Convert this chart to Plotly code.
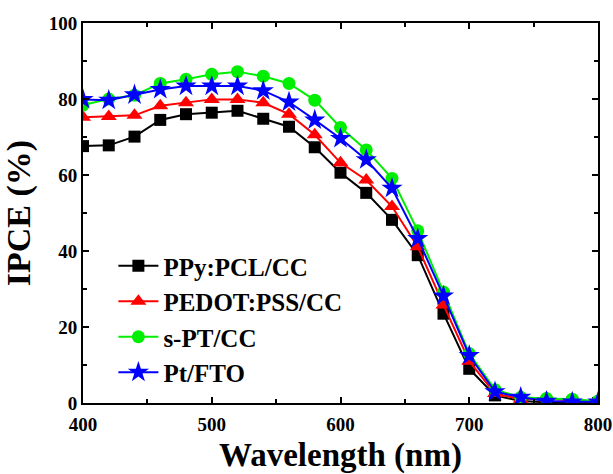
import plotly.graph_objects as go

wavelength = [400, 420, 440, 460, 480, 500, 520, 540, 560, 580, 600,
              620, 640, 660, 680, 700, 720, 740, 760, 780, 800]
ppy_pcl_cc = [67.6, 67.8, 70.1, 74.5, 76.0, 76.4, 76.9, 74.8, 72.7, 67.3, 60.6,
              55.3, 48.2, 38.9, 23.5, 9.0, 2.0, 0.5, 0.2, 0.1, 0.0]
pedot_pss_cc = [75.2, 75.4, 75.7, 78.2, 79.0, 79.9, 79.9, 79.0, 76.0, 70.6, 63.2,
                58.7, 51.7, 41.1, 25.8, 11.0, 2.5, 1.0, 1.3, 0.5, 0.4]
spt_cc = [78.4, 80.0, 81.0, 84.1, 85.2, 86.5, 87.2, 86.0, 84.1, 79.7, 72.5,
          66.6, 59.1, 45.3, 29.2, 13.0, 3.5, 1.5, 1.2, 1.0, 0.5]
pt_fto = [79.9, 79.7, 81.1, 82.5, 83.4, 83.4, 83.4, 82.2, 79.2, 74.5, 69.6,
          64.0, 56.5, 43.3, 28.2, 12.5, 3.0, 1.5, 0.5, 0.3, 0.3]

series = [
    ("PPy:PCL/CC", ppy_pcl_cc, "#000000", "square", 12),
    ("PEDOT:PSS/CC", pedot_pss_cc, "#ff0000", "triangle-up", 14),
    ("s-PT/CC", spt_cc, "#00ee00", "circle", 13),
    ("Pt/FTO", pt_fto, "#0000ff", "star", 16),
]

fig = go.Figure()
for name, vals, color, sym, size in series:
    fig.add_trace(go.Scatter(
        x=wavelength, y=vals, name=name, mode="lines+markers",
        line=dict(color=color, width=2),
        marker=dict(symbol=sym, size=size, color=color, line=dict(width=0)),
    ))

font_family = "Liberation Serif, Times New Roman, serif"
axis_common = dict(
    showline=True, linecolor="black", linewidth=2, mirror="allticks",
    ticks="inside", ticklen=6, tickwidth=2, tickcolor="black",
    showgrid=False, zeroline=False, automargin=False,
    tickfont=dict(family=font_family, size=19, color="black", weight="bold"),
)
fig.update_xaxes(
    range=[400, 800], tickvals=[400, 500, 600, 700, 800],
    minor=dict(ticks="inside", ticklen=4, tickwidth=2, tickcolor="black", dtick=50, tick0=400),
    ticklabelstandoff=3,
    title=dict(text="Wavelength (nm)", font=dict(family=font_family, size=33, color="black", weight="bold"), standoff=10),
    **axis_common,
)
fig.update_yaxes(
    range=[0, 100], tickvals=[0, 20, 40, 60, 80, 100],
    minor=dict(ticks="inside", ticklen=4, tickwidth=2, tickcolor="black", dtick=10, tick0=0),
    title=dict(text="IPCE (%)", font=dict(family=font_family, size=34, color="black", weight="bold"), standoff=8),
    **axis_common,
)
fig.update_layout(
    width=613, height=474,
    margin=dict(l=83, r=15, t=23, b=71),
    plot_bgcolor="white", paper_bgcolor="white",
    legend=dict(
        x=0.059, y=0.421, xanchor="left", yanchor="top",
        bgcolor="rgba(0,0,0,0)",
        font=dict(family=font_family, size=25, color="black", weight="bold"),
        itemwidth=40, tracegroupgap=0,
    ),
)
fig.write_html("out.html", config={"displayModeBar": False},
               post_script="document.body.style.margin='0';document.body.style.overflow='hidden';")
